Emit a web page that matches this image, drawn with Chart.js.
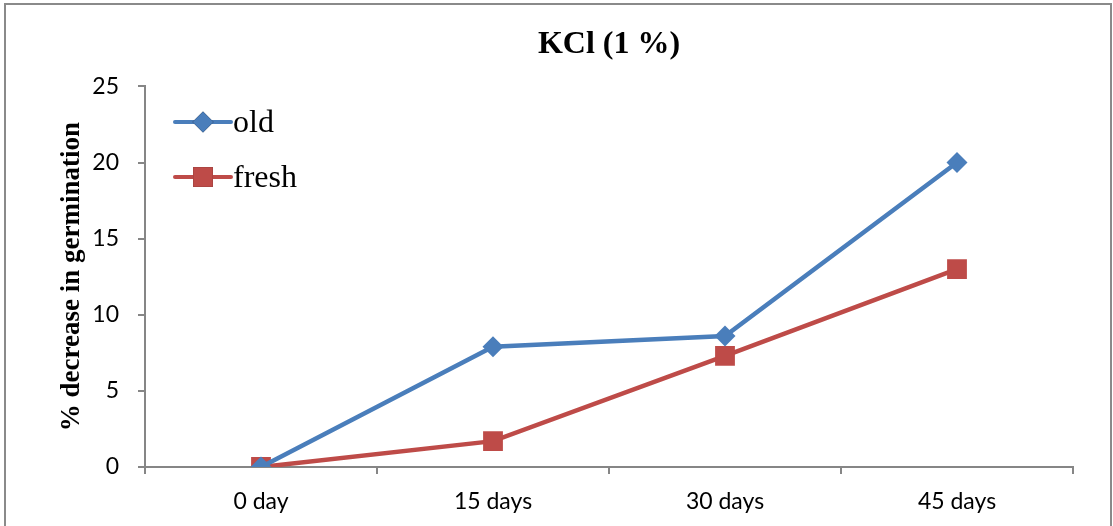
<!DOCTYPE html>
<html>
<head>
<meta charset="utf-8">
<script src="https://cdn.jsdelivr.net/npm/chart.js@4"></script>
<style>
html,body{margin:0;padding:0;background:#fff;}
#wrap{width:1113px;height:526px;position:relative;}
</style>
</head>
<body>
<div id="wrap"><canvas id="c" width="1113" height="526"></canvas></div>
<script>
const categories = ["0 day", "15 days", "30 days", "45 days"];
const oldValues = [0, 7.9, 8.6, 20];
const freshValues = [0, 1.7, 7.3, 13];
const yTicks = [0, 5, 10, 15, 20, 25];
const chartTitle = "KCl (1 %)";
const yAxisTitle = "% decrease in germination";
const seriesNames = ["old", "fresh"];

const BLUE = "#4A7EBB", RED = "#BE4B48", AXIS = "#868686";

const framePlugin = {
  id: "frame",
  beforeDraw(chart) {
    const ctx = chart.ctx;
    ctx.save();
    ctx.fillStyle = "#fff";
    ctx.fillRect(0, 0, chart.width, chart.height);
    ctx.strokeStyle = "#8a8a8a";
    ctx.lineWidth = 2;
    ctx.strokeRect(5, 4, 1106, 620);
    ctx.restore();
  }
};

const legendPlugin = {
  id: "insideLegend",
  afterDatasetsDraw(chart) {
    const ctx = chart.ctx;
    const items = chart.data.datasets;
    const x0 = 175, x1 = 231, ys = [122, 177];
    ctx.save();
    items.forEach((ds, i) => {
      const y = ys[i];
      ctx.strokeStyle = ds.borderColor;
      ctx.lineWidth = 4;
      ctx.lineCap = "round";
      ctx.beginPath(); ctx.moveTo(x0, y); ctx.lineTo(x1, y); ctx.stroke();
      Chart.helpers.drawPoint(ctx, {pointStyle: ds.pointStyle, radius: ds.pointRadius, borderWidth: 0}, (x0 + x1) / 2, y);
      ctx.fillStyle = ds.borderColor;
      ctx.fill();
      ctx.fillStyle = "#000";
      ctx.font = "32px 'Liberation Serif'";
      ctx.textBaseline = "middle";
      ctx.textAlign = "left";
      ctx.fillText(ds.label, x1 + 2, y + 2);
    });
    ctx.restore();
  }
};

new Chart(document.getElementById("c"), {
  type: "line",
  data: {
    labels: categories,
    datasets: [
      {label: seriesNames[0], data: oldValues, borderColor: BLUE, backgroundColor: BLUE,
       borderWidth: 4.5, pointStyle: "rectRot", pointRadius: 10.5, pointHoverRadius: 10.5,
       pointBorderWidth: 0, tension: 0},
      {label: seriesNames[1], data: freshValues, borderColor: RED, backgroundColor: RED,
       borderWidth: 4.5, pointStyle: "rect", pointRadius: 14, pointHoverRadius: 14,
       pointBorderWidth: 0, tension: 0}
    ]
  },
  options: {
    responsive: false,
    animation: false,
    devicePixelRatio: 1,
    layout: {padding: {left: 0, right: 40, top: 0, bottom: 0}},
    plugins: {
      legend: {display: false},
      tooltip: {enabled: false},
      title: {
        display: true, text: chartTitle, color: "#000", fullSize: false,
        font: {family: "'Liberation Serif'", size: 32, weight: "bold"},
        padding: {top: 26, bottom: 22}
      }
    },
    scales: {
      x: {
        offset: true,
        grid: {offset: true, drawOnChartArea: false, drawTicks: true, tickLength: 7, color: AXIS, lineWidth: 2},
        border: {color: AXIS, width: 2},
        ticks: {color: "#000", font: {family: "Lato", size: 23}, padding: 14, maxRotation: 0},
        afterFit(s) { s.height = 59; }
      },
      y: {
        min: 0, max: 25,
        afterBuildTicks(s) { s.ticks = yTicks.map(v => ({value: v})); },
        grid: {drawOnChartArea: false, drawTicks: true, tickLength: 7, color: AXIS, lineWidth: 2},
        border: {color: AXIS, width: 2},
        ticks: {color: "#000", font: {family: "Lato", size: 23}, padding: 19},
        title: {
          display: true, text: yAxisTitle, color: "#000",
          font: {family: "'Liberation Serif'", size: 27, weight: "bold"},
          padding: {top: 56, bottom: 0}
        },
        afterFit(s) { s.width = 145; }
      }
    }
  },
  plugins: [framePlugin, legendPlugin]
});
</script>
</body>
</html>
